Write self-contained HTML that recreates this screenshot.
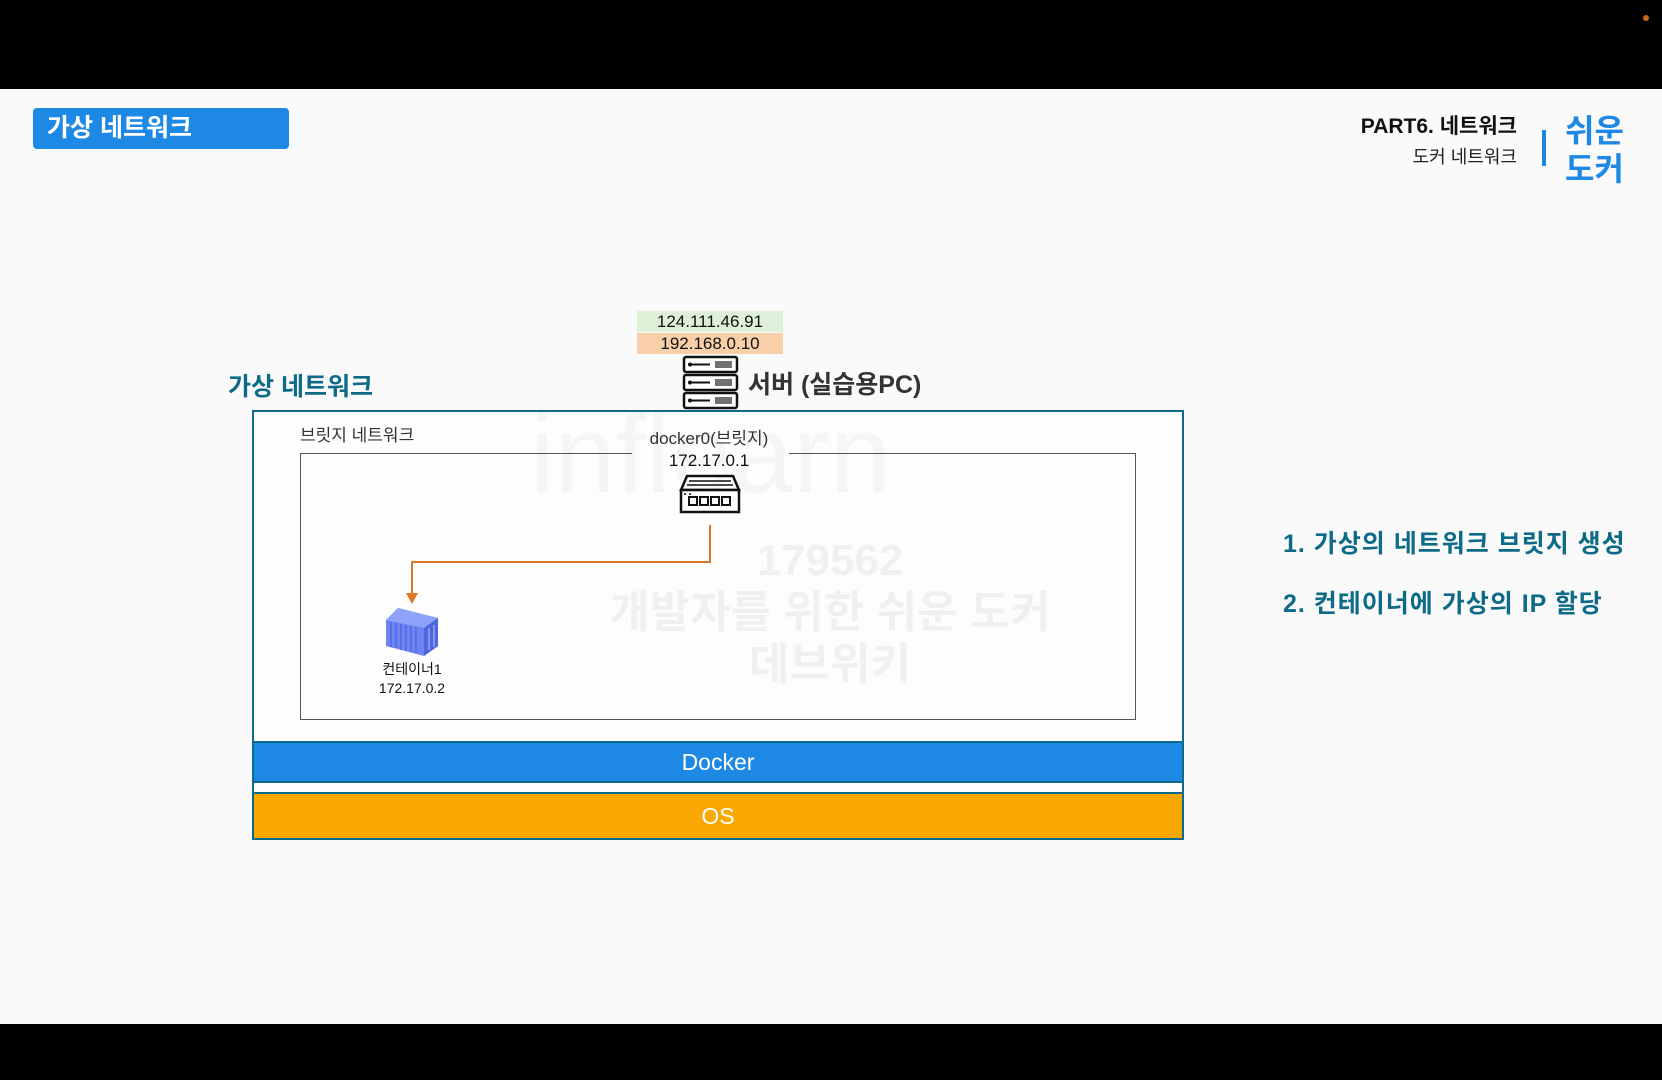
<!DOCTYPE html>
<html><head><meta charset="utf-8">
<style>
*{margin:0;padding:0;box-sizing:border-box}
body{width:1662px;height:1080px;background:#fafafa;position:relative;overflow:hidden;font-family:"Liberation Sans","Noto Sans CJK KR",sans-serif}
.a{position:absolute}
.t{white-space:nowrap}
</style></head><body>
<div class="a" style="left:0;top:0;width:1662px;height:89px;background:#000"></div>
<div class="a" style="left:1643px;top:15px;width:6px;height:6px;border-radius:3px;background:#c86a1e"></div>
<div class="a" style="left:0;top:1024px;width:1662px;height:56px;background:#000"></div>

<div class="a" style="left:33px;top:108px;width:256px;height:41px;background:#1e88e5;border-radius:4px"></div>
<div class="a t" style="left:47px;top:111px;font-size:25px;font-weight:bold;color:#fff;line-height:34px">가상 네트워크</div>

<div class="a t" style="right:145px;top:113px;font-size:21px;font-weight:bold;color:#111;line-height:28px">PART6. 네트워크</div>
<div class="a t" style="right:145px;top:144px;font-size:18px;color:#222;line-height:26px">도커 네트워크</div>
<div class="a" style="left:1542px;top:130px;width:4px;height:36px;background:#1e88e5"></div>
<div class="a t" style="left:1565px;top:112px;font-size:32px;font-weight:bold;color:#1e88e5;line-height:38px">쉬운<br>도커</div>

<div class="a t" style="left:228px;top:370px;font-size:25px;font-weight:bold;color:#0e6b87;line-height:34px">가상 네트워크</div>

<div class="a t" style="left:637px;top:311px;width:146px;height:21px;background:#dff0d8;font-size:17px;text-align:center;line-height:21px;color:#111">124.111.46.91</div>
<div class="a t" style="left:637px;top:333px;width:146px;height:21px;background:#f8cfa8;font-size:17px;text-align:center;line-height:21px;color:#111">192.168.0.10</div>

<svg class="a" style="left:682px;top:355px" width="57" height="55" viewBox="0 0 57 55">
<g fill="#fff" stroke="#111" stroke-width="2.5">
<rect x="2" y="2" width="53" height="15" rx="2"/><rect x="2" y="20" width="53" height="15" rx="2"/><rect x="2" y="38" width="53" height="15" rx="2"/>
</g>
<g stroke="#111" stroke-width="2"><line x1="8" y1="9.5" x2="28" y2="9.5"/><line x1="8" y1="27.5" x2="28" y2="27.5"/><line x1="8" y1="45.5" x2="28" y2="45.5"/></g>
<g fill="#111"><circle cx="8" cy="9.5" r="2"/><circle cx="8" cy="27.5" r="2"/><circle cx="8" cy="45.5" r="2"/>
<rect x="33" y="6" width="17" height="7" opacity=".6"/><rect x="33" y="24" width="17" height="7" opacity=".6"/><rect x="33" y="42" width="17" height="7" opacity=".6"/></g>
</svg>
<div class="a t" style="left:748px;top:368px;font-size:25px;font-weight:bold;color:#333;line-height:34px">서버 (실습용PC)</div>

<div class="a" style="left:252px;top:410px;width:932px;height:430px;border:2.5px solid #0e6b87;background:#fdfdfd"></div>
<div class="a" style="left:300px;top:453px;width:836px;height:267px;border:1.5px solid #555"></div>
<div class="a" style="left:632px;top:448px;width:157px;height:10px;background:#fdfdfd"></div>
<div class="a t" style="left:300px;top:424px;font-size:17px;color:#333;line-height:24px">브릿지 네트워크</div>
<div class="a t" style="left:609px;top:427px;width:200px;text-align:center;font-size:17px;color:#333;line-height:24px">docker0(브릿지)</div>
<div class="a t" style="left:609px;top:449px;width:200px;text-align:center;font-size:17px;color:#111;line-height:24px">172.17.0.1</div>

<svg class="a" style="left:679px;top:474px" width="62" height="40" viewBox="0 0 62 40">
<path d="M8 2 H54 L60 16 H2 Z" fill="#fff" stroke="#111" stroke-width="2.5"/>
<line x1="10" y1="7" x2="52" y2="7" stroke="#111" stroke-width="1.5"/><line x1="8" y1="11" x2="54" y2="11" stroke="#111" stroke-width="1.5"/>
<rect x="2" y="16" width="58" height="22" fill="#fff" stroke="#111" stroke-width="2.5"/>
<g fill="none" stroke="#111" stroke-width="2"><rect x="10" y="23" width="8" height="8"/><rect x="21" y="23" width="8" height="8"/><rect x="32" y="23" width="8" height="8"/><rect x="43" y="23" width="8" height="8"/></g>
<g fill="#111"><circle cx="6" cy="20" r="1"/><circle cx="11" cy="20" r="1"/></g>
</svg>

<svg class="a" style="left:0;top:0" width="1662" height="1080">
<polyline points="710,525 710,562 412,562 412,596" fill="none" stroke="#d9782a" stroke-width="2"/>
<polygon points="406,593 418,593 412,604" fill="#d9782a"/>
</svg>

<svg class="a" style="left:384px;top:606px" width="56" height="52" viewBox="0 0 56 52">
<polygon points="2,14 14,2 54,12 54,40 40,50 2,40" fill="#6d84f5"/>
<polygon points="2,14 14,2 54,12 40,22" fill="#8fa2fa"/>
<polygon points="40,22 54,12 54,40 40,50" fill="#4e66e0"/>
<g stroke="#4a5fd6" stroke-width="1.2">
<line x1="7" y1="16" x2="7" y2="41"/><line x1="12" y1="17" x2="12" y2="42"/><line x1="17" y1="18" x2="17" y2="44"/><line x1="22" y1="19" x2="22" y2="45"/><line x1="27" y1="20" x2="27" y2="46"/><line x1="32" y1="21" x2="32" y2="47"/></g>
<g stroke="#a9b6ff" stroke-width="1.2"><line x1="45" y1="22" x2="45" y2="44"/><line x1="50" y1="19" x2="50" y2="41"/></g>
</svg>
<div class="a t" style="left:362px;top:660px;width:100px;text-align:center;font-size:14px;color:#111;line-height:19px">컨테이너1<br>172.17.0.2</div>

<div class="a t" style="left:540px;top:535px;width:580px;text-align:center;font-size:44px;font-weight:bold;color:rgba(0,0,0,0.05);line-height:52px">179562<br>개발자를 위한 쉬운 도커<br>데브위키</div>
<div class="a t" style="left:530px;top:395px;font-size:110px;color:rgba(0,0,0,0.03);line-height:120px">inflearn</div>

<div class="a" style="left:254px;top:741px;width:928px;height:42px;background:#1e88e5;border-top:2px solid #0e6b87;border-bottom:2px solid #0e6b87"></div>
<div class="a t" style="left:254px;top:741px;width:928px;text-align:center;font-size:23px;color:#fff;line-height:42px">Docker</div>
<div class="a" style="left:254px;top:792px;width:928px;height:46px;background:#f8a800;border-top:2px solid #0e6b87"></div>
<div class="a t" style="left:254px;top:794px;width:928px;text-align:center;font-size:23px;color:#fff;line-height:44px">OS</div>

<div class="a t" style="left:1283px;top:528px;font-size:25px;font-weight:bold;color:#0e6b87;line-height:32px;letter-spacing:1px">1. 가상의 네트워크 브릿지 생성</div>
<div class="a t" style="left:1283px;top:588px;font-size:25px;font-weight:bold;color:#0e6b87;line-height:32px;letter-spacing:1px">2. 컨테이너에 가상의 IP 할당</div>
</body></html>
